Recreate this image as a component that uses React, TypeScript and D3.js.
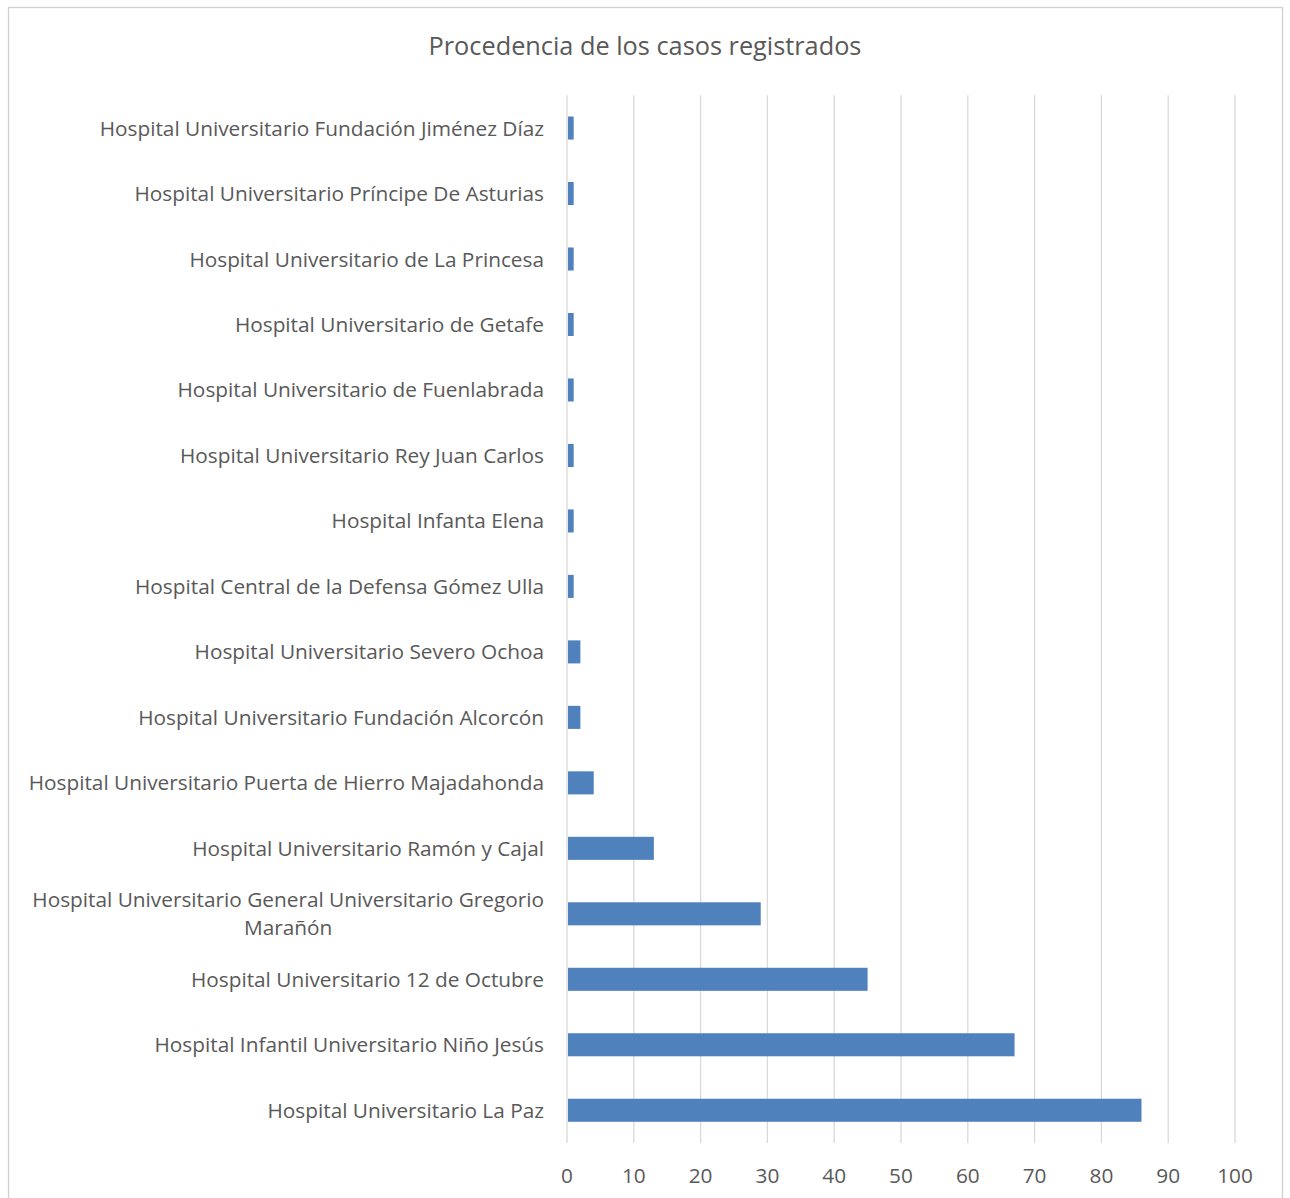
import * as d3 from "d3";
import React, { useEffect, useRef } from "react";

const hospitals = [
  "Hospital Universitario Fundación Jiménez Díaz",
  "Hospital Universitario Príncipe De Asturias",
  "Hospital Universitario de La Princesa",
  "Hospital Universitario de Getafe",
  "Hospital Universitario de Fuenlabrada",
  "Hospital Universitario Rey Juan Carlos",
  "Hospital Infanta Elena",
  "Hospital Central de la Defensa Gómez Ulla",
  "Hospital Universitario Severo Ochoa",
  "Hospital Universitario Fundación Alcorcón",
  "Hospital Universitario Puerta de Hierro Majadahonda",
  "Hospital Universitario Ramón y Cajal",
  "Hospital Universitario General Universitario Gregorio Marañón",
  "Hospital Universitario 12 de Octubre",
  "Hospital Infantil Universitario Niño Jesús",
  "Hospital Universitario La Paz",
];
const casos = [1, 1, 1, 1, 1, 1, 1, 1, 2, 2, 4, 13, 29, 45, 67, 86];
const xTicks = [0, 10, 20, 30, 40, 50, 60, 70, 80, 90, 100];
const title = "Procedencia de los casos registrados";

export default function App() {
  const ref = useRef<SVGSVGElement>(null);

  useEffect(() => {
    const left = 567,
      right = 1235,
      top = 95.3,
      bottom = 1143;
    const font = "'Open Sans', sans-serif";
    const gray = "#595959";
    const labelSize = 20.8;

    const svg = d3.select(ref.current);
    svg.selectAll("*").remove();

    svg.append("rect")
      .attr("x", 8.5).attr("y", 7.5)
      .attr("width", 1274).attr("height", 1200)
      .attr("fill", "#fff")
      .attr("stroke", "#d0d0d0")
      .attr("stroke-width", 1.3);

    svg.append("text")
      .attr("x", 645).attr("y", 55)
      .attr("text-anchor", "middle")
      .attr("font-family", font)
      .attr("font-size", 25.3)
      .attr("fill", gray)
      .text(title);

    const x = d3.scaleLinear().domain([0, 100]).range([left, right]);
    const y = d3.scaleBand().domain(hospitals).range([top, bottom]).paddingInner(0.648).paddingOuter(0.324);

    svg.append("g")
      .selectAll("line")
      .data(xTicks)
      .join("line")
      .attr("x1", d => x(d)).attr("x2", d => x(d))
      .attr("y1", top).attr("y2", bottom)
      .attr("stroke", "#d9d9d9")
      .attr("stroke-width", 1.3);

    svg.append("g")
      .selectAll("text")
      .data(xTicks)
      .join("text")
      .attr("x", d => x(d))
      .attr("y", 1182.5)
      .attr("text-anchor", "middle")
      .attr("font-family", font)
      .attr("font-size", labelSize)
      .attr("fill", gray)
      .text(d => d);

    svg.append("g")
      .selectAll("rect")
      .data(casos)
      .join("rect")
      .attr("x", x(0) + 1)
      .attr("y", (d, i) => y(hospitals[i])!)
      .attr("width", d => x(d) - x(0) - 1)
      .attr("height", y.bandwidth())
      .attr("fill", "#4f81bd");

    const maxW = 530;
    const labels = svg.append("g");
    const measure = (s: string) => {
      const p = labels.append("text").attr("font-family", font).attr("font-size", labelSize).text(s);
      const w = (p.node() as SVGTextElement).getComputedTextLength();
      p.remove();
      return w;
    };
    hospitals.forEach(h => {
      const cy = y(h)! + y.bandwidth() / 2;
      const t = labels.append("text")
        .attr("font-family", font)
        .attr("font-size", labelSize)
        .attr("fill", gray);
      if (measure(h) <= maxW) {
        t.attr("text-anchor", "end").attr("x", 544).attr("y", cy + 7.5).text(h);
        return;
      }
      // wrap onto several lines, centred
      const words = h.split(" ");
      const lines: string[] = [];
      let cur: string[] = [];
      words.forEach(w => {
        if (cur.length && measure([...cur, w].join(" ")) > maxW) {
          lines.push(cur.join(" "));
          cur = [w];
        } else cur.push(w);
      });
      lines.push(cur.join(" "));
      const widest = d3.max(lines, measure)!;
      const cx = 544 - widest / 2;
      const lh = 28;
      t.attr("text-anchor", "middle");
      lines.forEach((l, i) => {
        t.append("tspan")
          .attr("x", cx)
          .attr("y", cy + 7.5 + (i - (lines.length - 1) / 2) * lh)
          .text(l);
      });
    });
  }, []);

  return (
    <div style={{ position: "absolute", left: 0, top: 0, width: 1290, height: 1198, overflow: "hidden" }}>
      <svg ref={ref} width={1290} height={1198} style={{ display: "block" }} />
    </div>
  );
}
